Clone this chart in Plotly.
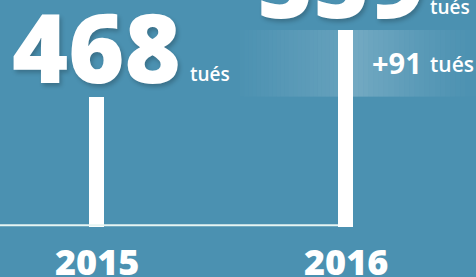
import plotly.graph_objects as go

years = ["2015", "2016"]
killed = [468, 559]
unit = "tués"

BG = "#4b91b1"
W, H = 476, 277
PB = 50  # bottom margin
PH = H - PB

def py(px):
    # pixel from top -> paper y
    return 1 - px / PH

diff = killed[1] - killed[0]

fig = go.Figure()
fig.add_trace(go.Bar(
    x=years, y=killed, width=0.06,
    marker=dict(color="white", line=dict(width=0)),
    hoverinfo="skip", showlegend=False,
))

shapes = []
# gradient band between the two values
N = 24
lx0, lx1 = 240 / W, 338 / W
for i in range(N):
    a = 0.01 + 0.13 * (i + 0.5) / N
    shapes.append(dict(type="rect", xref="paper", yref="y",
                       x0=lx0 + (lx1 - lx0) * i / N, x1=lx0 + (lx1 - lx0) * (i + 1) / N,
                       y0=killed[0], y1=killed[1], line=dict(width=0),
                       fillcolor=f"rgba(255,255,255,{a:.3f})", layer="below"))
rx0, rx1 = 353 / W, 1.0
for i in range(N):
    t = (i + 0.5) / N
    a = 0.22 * (1 - t) ** 1.3 + 0.01
    shapes.append(dict(type="rect", xref="paper", yref="y",
                       x0=rx0 + (rx1 - rx0) * i / N, x1=rx0 + (rx1 - rx0) * (i + 1) / N,
                       y0=killed[0], y1=killed[1], line=dict(width=0),
                       fillcolor=f"rgba(255,255,255,{a:.3f})", layer="below"))
# baseline
shapes.append(dict(type="line", xref="x", yref="y", x0=-0.5, x1=1 - 0.03,
                   y0=292.5, y1=292.5, line=dict(color="#e6f5f3", width=2), layer="above"))

FONT = "Open Sans"
shadow = "2px 3px 4px rgba(0,0,0,0.22)"
ann = []
ann.append(dict(x=0, xref="x", y=py(45), yref="paper", text=f"{killed[0]}",
                showarrow=False, xanchor="center", yanchor="middle",
                font=dict(family=FONT, size=96, color="white", weight=800, shadow=shadow)))
ann.append(dict(x=188 / W, xref="paper", y=py(74), yref="paper", text=unit,
                showarrow=False, xanchor="left", yanchor="middle",
                font=dict(family=FONT, size=19, color="white", weight=600)))
ann.append(dict(x=341 / W, xref="paper", y=py(-20), yref="paper", text=f"{killed[1]}",
                showarrow=False, xanchor="center", yanchor="middle",
                font=dict(family=FONT, size=96, color="white", weight=800, shadow=shadow)))
ann.append(dict(x=428 / W, xref="paper", y=py(7), yref="paper", text=unit,
                showarrow=False, xanchor="left", yanchor="middle",
                font=dict(family=FONT, size=19, color="white", weight=600)))
ann.append(dict(x=424 / W, xref="paper", y=py(62), yref="paper", text=f"+{diff}",
                showarrow=False, xanchor="right", yanchor="middle",
                font=dict(family=FONT, size=29, color="white", weight="bold")))
ann.append(dict(x=428 / W, xref="paper", y=py(64), yref="paper", text=unit,
                showarrow=False, xanchor="left", yanchor="middle",
                font=dict(family=FONT, size=21, color="white", weight=600)))
# year labels
for i, yr in enumerate(years):
    ann.append(dict(x=i, xref="x", y=py(261), yref="paper", text=f"{yr}",
                    showarrow=False, xanchor="center", yanchor="middle",
                    font=dict(family=FONT, size=36, color="white", weight=800)))

fig.update_layout(
    width=W, height=H,
    margin=dict(l=0, r=0, t=0, b=PB),
    paper_bgcolor=BG, plot_bgcolor=BG,
    shapes=shapes, annotations=ann,
    xaxis=dict(type="category", range=[-0.3876, 1.524], showgrid=False, zeroline=False,
               showline=False, ticks="", showticklabels=False, fixedrange=True),
    yaxis=dict(range=[290, 600], visible=False, showgrid=False, zeroline=False, fixedrange=True),
    bargap=0,
)

fig.write_html("out.html", config={"displayModeBar": False},
               post_script="document.body.style.margin='0';document.body.style.padding='0';document.body.style.overflow='hidden';")
